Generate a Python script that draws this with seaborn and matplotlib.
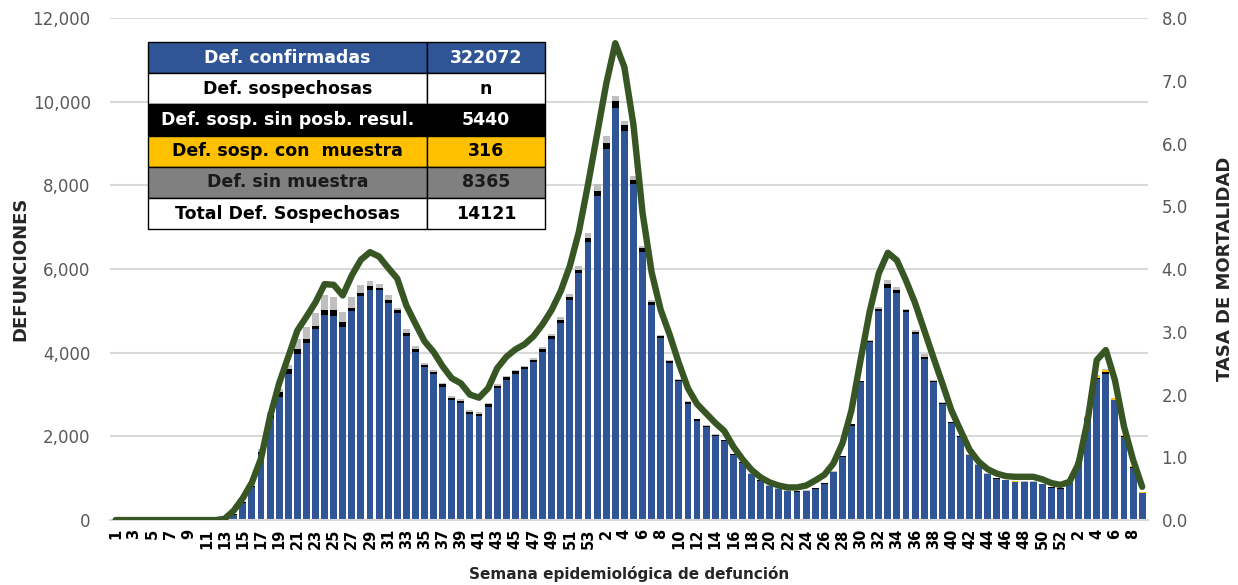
import numpy as np
import pandas as pd
import seaborn as sns
import matplotlib.pyplot as plt
from matplotlib.ticker import FuncFormatter

# ============================ Data ============================
# Weekly deaths by epidemiological week: 2020 (1-53), 2021 (1-52), 2022 (1-9).
confirmadas_2020 = [0]*12 + [10, 120, 400, 780, 1580, 2430, 2950, 3500, 3980, 4240, 4560,
                             4900, 4880, 4620, 5000, 5350, 5510, 5500, 5200, 4940, 4400, 4020,
                             3650, 3490, 3190, 2870, 2800, 2530, 2490, 2710, 3150, 3350, 3500,
                             3600, 3780, 4030, 4330, 4720, 5270, 5900, 6650]
confirmadas_2021 = [7740, 8860, 9860, 9300, 8030, 6400, 5150, 4350, 3760, 3320, 2780, 2380,
                    2220, 2020, 1880, 1560, 1360, 1090, 940, 810, 740, 690, 680, 690, 750, 870,
                    1140, 1500, 2260, 3290, 4250, 4990, 5560, 5420, 4980, 4450, 3850, 3290,
                    2780, 2320, 1990, 1550, 1310, 1095, 990, 950, 910, 910, 910, 855, 775, 750]
confirmadas_2022 = [905, 1385, 2440, 3380, 3500, 2860, 1990, 1255, 650]

sin_resul_2020 = [0]*13 + [20, 30, 40, 50, 80, 120, 120, 110, 80, 90, 120, 140, 105, 60, 80,
                           80, 40, 55, 80, 80, 60, 55, 50, 55, 55, 55, 55, 55, 55, 55, 60, 55,
                           55, 55, 60, 60, 70, 70, 90, 105]
sin_resul_2021 = [125, 145, 150, 155, 110, 95, 60, 50, 45, 40, 35, 30, 30, 25, 25, 20, 20, 15,
                  15, 15, 12, 12, 10, 10, 10, 12, 15, 20, 25, 25, 30, 50, 80, 70, 45, 40, 40,
                  30, 25, 20, 15, 15, 12, 12, 10, 10, 10, 10, 10, 10, 8, 8]
sin_resul_2022 = [10, 10, 12, 15, 30, 10, 8, 5, 5]

con_muestra_2020 = [0]*53
con_muestra_2021 = [0]*46 + [5, 2, 2, 2, 3, 3]
con_muestra_2022 = [5, 10, 20, 55, 60, 55, 40, 30, 24]

sin_muestra_2020 = [0]*13 + [10, 30, 50, 60, 80, 60, 80, 250, 300, 300, 360, 320, 255, 265,
                             185, 120, 100, 120, 55, 80, 80, 40, 50, 40, 40, 40, 40, 40, 25,
                             40, 40, 40, 40, 40, 45, 50, 60, 70, 90, 110]
sin_muestra_2021 = [160, 175, 135, 95, 85, 60, 40, 30, 25, 20, 20, 15, 15, 15, 12, 10, 10, 10,
                    8, 8, 8, 8, 8, 8, 8, 10, 10, 12, 15, 20, 25, 50, 95, 85, 30, 60, 80, 25,
                    20, 15, 12, 10, 10, 8, 8, 6, 6, 6, 6, 5, 5, 5]
sin_muestra_2022 = [5, 5, 5, 8, 10, 5, 5, 3, 2]

tasa_2020 = [0]*12 + [0.02, 0.15, 0.35, 0.6, 0.98, 1.65, 2.18, 2.6, 3.02, 3.24, 3.47, 3.76,
                      3.75, 3.58, 3.9, 4.15, 4.27, 4.2, 4.02, 3.85, 3.42, 3.13, 2.85, 2.68,
                      2.45, 2.26, 2.18, 2.0, 1.95, 2.1, 2.42, 2.6, 2.72, 2.8, 2.93, 3.12,
                      3.35, 3.65, 4.05, 4.6, 5.35]
tasa_2021 = [6.15, 6.95, 7.6, 7.22, 6.3, 4.9, 3.95, 3.35, 2.95, 2.5, 2.1, 1.85, 1.7, 1.55,
             1.42, 1.17, 0.97, 0.8, 0.68, 0.6, 0.55, 0.52, 0.52, 0.55, 0.63, 0.72, 0.9, 1.22,
             1.75, 2.55, 3.32, 3.93, 4.26, 4.14, 3.82, 3.46, 3.03, 2.6, 2.18, 1.75, 1.43,
             1.12, 0.93, 0.81, 0.74, 0.7, 0.69, 0.69, 0.69, 0.65, 0.59, 0.56]
tasa_2022 = [0.61, 0.9, 1.59, 2.55, 2.71, 2.23, 1.49, 0.96, 0.53]

tabla_etiquetas = ['Def. confirmadas', 'Def. sospechosas', 'Def. sosp. sin posb. resul.',
                   'Def. sosp. con  muestra', 'Def. sin muestra', 'Total Def. Sospechosas']
tabla_valores = ['322072', 'n', '5440', '316', '8365', '14121']

# ============================ Build dataframe ============================
semanas = list(range(1, 54)) + list(range(1, 53)) + list(range(1, 10))
df = pd.DataFrame({
    'semana': semanas,
    'confirmadas': confirmadas_2020 + confirmadas_2021 + confirmadas_2022,
    'sin_resul': sin_resul_2020 + sin_resul_2021 + sin_resul_2022,
    'con_muestra': con_muestra_2020 + con_muestra_2021 + con_muestra_2022,
    'sin_muestra': sin_muestra_2020 + sin_muestra_2021 + sin_muestra_2022,
    'tasa': tasa_2020 + tasa_2021 + tasa_2022,
})
df['idx'] = np.arange(len(df))
df['c1'] = df['confirmadas']
df['c2'] = df['c1'] + df['sin_resul']
df['c3'] = df['c2'] + df['con_muestra']
df['c4'] = df['c3'] + df['sin_muestra']

# ============================ Plot ============================
sns.set_style('white')
plt.rcParams['font.family'] = ['DejaVu Sans']

fig = plt.figure(figsize=(12.38, 5.85), dpi=100)
ax = fig.add_axes([0.089, 0.111, 0.838, 0.858])

blue, black, yellow, grey = '#2F5597', '#000000', '#FFC000', '#BFBFBF'
for col, colour in [('c4', grey), ('c3', yellow), ('c2', black), ('c1', blue)]:
    sns.barplot(data=df, x='idx', y=col, color=colour, saturation=1, width=0.76,
                errorbar=None, linewidth=0, ax=ax, zorder=2)

ax.set_ylim(0, 12000)
ax.set_yticks(np.arange(0, 12001, 2000))
ax.yaxis.set_major_formatter(FuncFormatter(lambda v, p: f'{int(v):,}'))
ax.grid(axis='y', color='#D9D9D9', linewidth=1.5, zorder=0)
ax.set_axisbelow(True)
for s in ['top', 'right', 'left']:
    ax.spines[s].set_visible(False)
ax.spines['bottom'].set_color('#D9D9D9')
ax.spines['bottom'].set_linewidth(1.5)

ticks = df['idx'][::2].tolist()
ax.set_xticks(ticks)
ax.set_xticklabels([str(s) for s in df['semana'][::2]], rotation=90, fontsize=10.5,
                   fontweight='bold', color='black')
ax.tick_params(axis='x', length=0, pad=6)
ax.tick_params(axis='y', length=0, labelsize=12, labelcolor='#595959', pad=14)
ax.set_xlabel('Semana epidemiológica de defunción', fontsize=11, fontweight='bold', labelpad=12)
ax.set_ylabel('DEFUNCIONES', fontsize=13, fontweight='bold', labelpad=2)

ax2 = ax.twinx()
sns.lineplot(data=df, x='idx', y='tasa', color='#375623', linewidth=4.6, ax=ax2,
             solid_capstyle='round', solid_joinstyle='round', zorder=3)
ax2.set_ylim(0, 8)
ax2.set_yticks(np.arange(0, 8.01, 1))
ax2.yaxis.set_major_formatter(FuncFormatter(lambda v, p: f'{v:.1f}'))
ax2.tick_params(axis='y', length=0, labelsize=12, labelcolor='#595959', pad=10)
ax2.set_ylabel('TASA DE MORTALIDAD', fontsize=13, fontweight='bold', labelpad=20)
for s in ax2.spines.values():
    s.set_visible(False)
ax.set_xlim(-0.6, len(df) - 0.4)

# Summary table
fondos = [(blue, blue), ('white', 'white'), (black, black), (yellow, yellow),
          ('#808080', '#808080'), ('white', 'white')]
textos = ['white', 'black', 'white', 'black', '#1A1A1A', 'black']
tabla = ax2.table(cellText=[[a, b] for a, b in zip(tabla_etiquetas, tabla_valores)],
                  cellColours=[list(f) for f in fondos], colWidths=[0.703, 0.297],
                  cellLoc='center', bbox=[0.0366, 0.5797, 0.3825, 0.3725], zorder=5)
tabla.auto_set_font_size(False)
for (r, c), cell in tabla.get_celld().items():
    cell.set_edgecolor('black')
    cell.set_linewidth(1)
    cell.get_text().set_fontsize(12.5)
    cell.get_text().set_fontweight('bold')
    cell.get_text().set_color(textos[r])

fig.savefig('out.png', dpi=100)
